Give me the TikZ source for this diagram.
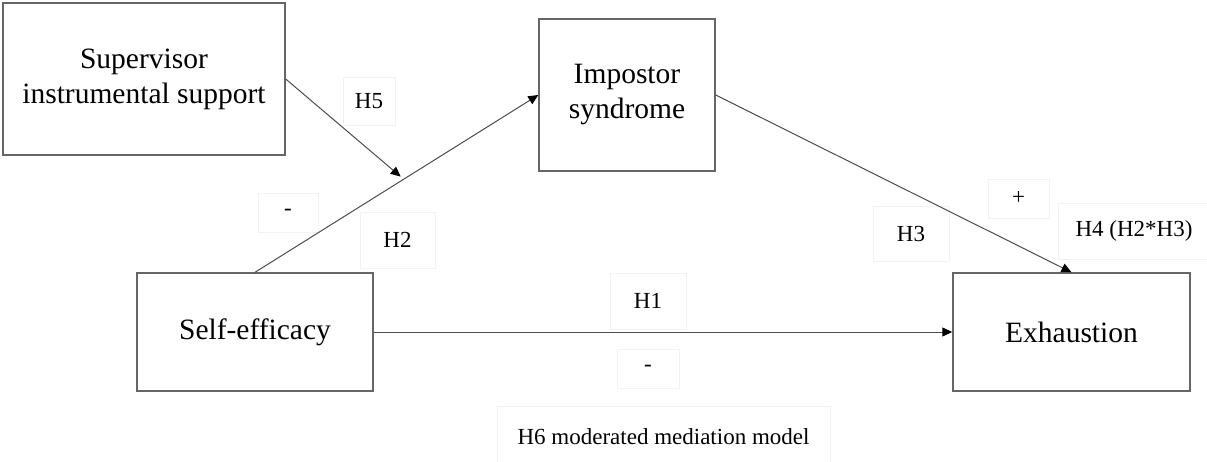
\documentclass[tikz,border=0pt]{standalone}
\usepackage{fontspec}
\setmainfont{Liberation Serif}
\usetikzlibrary{arrows.meta}
\tikzstyle{construct}=[rectangle,draw=black!60,line width=1.4pt,inner sep=0pt,align=center,font=\fontsize{29.5}{35}\selectfont]
\tikzstyle{hyp}=[rectangle,draw=black!5,line width=0.8pt,inner sep=0pt,font=\fontsize{23}{27}\selectfont]
\tikzstyle{link}=[draw,black!70,line width=1pt,-{Triangle[length=10pt,width=9pt,color=black]}]

\begin{document}
\begin{tikzpicture}[x=1pt,y=-1pt]
        \useasboundingbox (0,0) rectangle (1207,462);
        % constructs
        \node[construct,minimum width=282pt,minimum height=152pt] (sup) at (144,79) {Supervisor\\instrumental support};
        \node[construct,minimum width=176pt,minimum height=152pt] (imp) at (627,95) {Impostor\\syndrome};
        \node[construct,minimum width=236pt,minimum height=118pt] (self) at (255,332) {Self-efficacy};
        \node[construct,minimum width=237pt,minimum height=118pt] (exh) at (1071.5,332) {Exhaustion};

        % hypothesis labels
        \node[hyp,minimum width=52pt,minimum height=48pt] (h5) at (369,101) {H5};
        \node[hyp,minimum width=60pt,minimum height=39pt] (sign2) at (288,212.5) {-};
        \node[hyp,minimum width=75pt,minimum height=56pt] (h2) at (397.5,240) {H2};
        \node[hyp,minimum width=76pt,minimum height=55pt] (h3) at (911,233.5) {H3};
        \node[hyp,minimum width=61pt,minimum height=39pt] (sign3) at (1018.5,198.5) {+};
        \node[hyp,minimum width=152pt,minimum height=56pt] (h4) at (1134,231) {H4 (H2*H3)};
        \node[hyp,minimum width=76pt,minimum height=56pt] (h1) at (648,301) {H1};
        \node[hyp,minimum width=62pt,minimum height=39pt] (sign1) at (648,368.5) {-};
        \node[hyp,minimum width=333pt,minimum height=62pt] (h6) at (663.5,437) {H6 moderated mediation model};

        % paths
        \path[link] (self.north) -- coordinate[pos=0.525] (mod) (imp.west);
        \path[link,shorten >=4pt] (sup.east) -- (mod);
        \path[link] (imp.east) -- (exh.north);
        \path[link] (self.east) -- (exh.west);
    \end{tikzpicture}
\end{document}
